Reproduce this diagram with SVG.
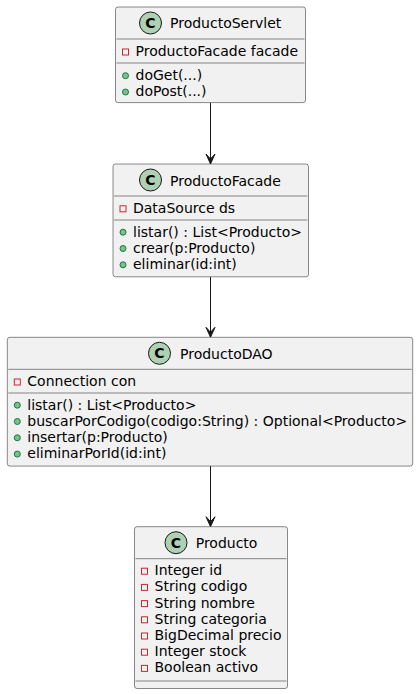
<svg xmlns="http://www.w3.org/2000/svg" width="419" height="694" viewBox="0 0 419 694">
<style>
  .box { fill:#F1F1F1; stroke:#181818; stroke-width:0.5; }
  .sep { stroke:#181818; stroke-width:0.5; }
  .spot { fill:#ADD1B2; stroke:#181818; stroke-width:1; }
  .spotc { font-family:"DejaVu Sans", sans-serif; font-size:14px; font-weight:bold; fill:#000; text-anchor:middle; }
  .name { font-family:"DejaVu Sans", sans-serif; font-size:14px; fill:#000; }
  .mem { font-family:"DejaVu Sans", sans-serif; font-size:14px; fill:#000; }
  .priv { fill:none; stroke:#C82930; stroke-width:1; }
  .pub { fill:#84BE84; stroke:#038048; stroke-width:1; }
  .edge { stroke:#181818; stroke-width:1; fill:none; }
  .head { fill:#181818; stroke:#181818; stroke-width:1; }
</style>
<defs>
  <marker id="arr" markerWidth="10" markerHeight="12" refX="5" refY="10" orient="auto" markerUnits="userSpaceOnUse" viewBox="0 0 10 12">
    <path d="M5,10 L0.5,0.5 L5,5 L9.5,0.5 Z" class="head"/>
  </marker>
</defs>

<g id="connectors">
  <path class="edge" d="M210.5,102.6 L210.5,164"/>
  <path class="head" d="M210.5,164 L206,154 L210.5,159 L215,154 Z"/>
  <path class="edge" d="M210.5,276.8 L210.5,337.3"/>
  <path class="head" d="M210.5,337.3 L206,327.3 L210.5,332.3 L215,327.3 Z"/>
  <path class="edge" d="M210.5,466.1 L210.5,526.7"/>
  <path class="head" d="M210.5,526.7 L206,516.7 L210.5,521.7 L215,516.7 Z"/>
</g>

<g id="ProductoServlet">
  <rect class="box" x="115.5" y="7" width="190" height="95.6" rx="2.5"/>
  <circle class="spot" cx="150.5" cy="23" r="11"/>
  <text class="spotc" x="150.5" y="28">C</text>
  <text class="name" x="170" y="28.3">ProductoServlet</text>
  <line class="sep" x1="116.5" y1="39" x2="304.5" y2="39"/>
  <rect class="priv" x="122.5" y="49" width="6" height="6"/>
  <text class="mem" x="135.5" y="56">ProductoFacade facade</text>
  <line class="sep" x1="116.5" y1="63" x2="304.5" y2="63"/>
  <circle class="pub" cx="125.5" cy="75.7" r="3"/>
  <text class="mem" x="135.5" y="80">doGet(...)</text>
  <circle class="pub" cx="125.5" cy="92" r="3"/>
  <text class="mem" x="135.5" y="96.3">doPost(...)</text>
</g>

<g id="ProductoFacade">
  <rect class="box" x="113" y="164" width="195.5" height="112.8" rx="2.5"/>
  <circle class="spot" cx="150.5" cy="180" r="11"/>
  <text class="spotc" x="150.5" y="185">C</text>
  <text class="name" x="170" y="185.5">ProductoFacade</text>
  <line class="sep" x1="114" y1="196" x2="307.5" y2="196"/>
  <rect class="priv" x="120" y="205.8" width="6" height="6"/>
  <text class="mem" x="133" y="212.8">DataSource ds</text>
  <line class="sep" x1="114" y1="220" x2="307.5" y2="220"/>
  <circle class="pub" cx="123" cy="232.2" r="3"/>
  <text class="mem" x="133" y="236.5">listar() : List&lt;Producto&gt;</text>
  <circle class="pub" cx="123" cy="248.5" r="3"/>
  <text class="mem" x="133" y="252.8">crear(p:Producto)</text>
  <circle class="pub" cx="123" cy="264.8" r="3"/>
  <text class="mem" x="133" y="269.1">eliminar(id:int)</text>
</g>

<g id="ProductoDAO">
  <rect class="box" x="7.3" y="337.3" width="405.4" height="128.8" rx="2.5"/>
  <circle class="spot" cx="159.5" cy="353.3" r="11"/>
  <text class="spotc" x="159.5" y="358.3">C</text>
  <text class="name" x="180" y="358.6">ProductoDAO</text>
  <line class="sep" x1="8.3" y1="369.3" x2="411.7" y2="369.3"/>
  <rect class="priv" x="14.3" y="379" width="6" height="6"/>
  <text class="mem" x="27.3" y="386">Connection con</text>
  <line class="sep" x1="8.3" y1="393" x2="411.7" y2="393"/>
  <circle class="pub" cx="17.3" cy="405.2" r="3"/>
  <text class="mem" x="27.3" y="409.5">listar() : List&lt;Producto&gt;</text>
  <circle class="pub" cx="17.3" cy="421.5" r="3"/>
  <text class="mem" x="27.3" y="425.8">buscarPorCodigo(codigo:String) : Optional&lt;Producto&gt;</text>
  <circle class="pub" cx="17.3" cy="437.8" r="3"/>
  <text class="mem" x="27.3" y="442.1">insertar(p:Producto)</text>
  <circle class="pub" cx="17.3" cy="454.1" r="3"/>
  <text class="mem" x="27.3" y="458.4">eliminarPorId(id:int)</text>
</g>

<g id="Producto">
  <rect class="box" x="134.5" y="526.7" width="153" height="161.8" rx="2.5"/>
  <circle class="spot" cx="176" cy="542.7" r="11"/>
  <text class="spotc" x="176" y="547.7">C</text>
  <text class="name" x="195.7" y="548">Producto</text>
  <line class="sep" x1="135.5" y1="558.7" x2="286.5" y2="558.7"/>
  <rect class="priv" x="141.5" y="568.2" width="6" height="6"/>
  <text class="mem" x="154.5" y="575.2">Integer id</text>
  <rect class="priv" x="141.5" y="584.4" width="6" height="6"/>
  <text class="mem" x="154.5" y="591.4">String codigo</text>
  <rect class="priv" x="141.5" y="600.6" width="6" height="6"/>
  <text class="mem" x="154.5" y="607.6">String nombre</text>
  <rect class="priv" x="141.5" y="616.8" width="6" height="6"/>
  <text class="mem" x="154.5" y="623.8">String categoria</text>
  <rect class="priv" x="141.5" y="633" width="6" height="6"/>
  <text class="mem" x="154.5" y="640">BigDecimal precio</text>
  <rect class="priv" x="141.5" y="649.2" width="6" height="6"/>
  <text class="mem" x="154.5" y="656.2">Integer stock</text>
  <rect class="priv" x="141.5" y="665.4" width="6" height="6"/>
  <text class="mem" x="154.5" y="672.4">Boolean activo</text>
  <line class="sep" x1="135.5" y1="681" x2="286.5" y2="681"/>
</g>
</svg>
